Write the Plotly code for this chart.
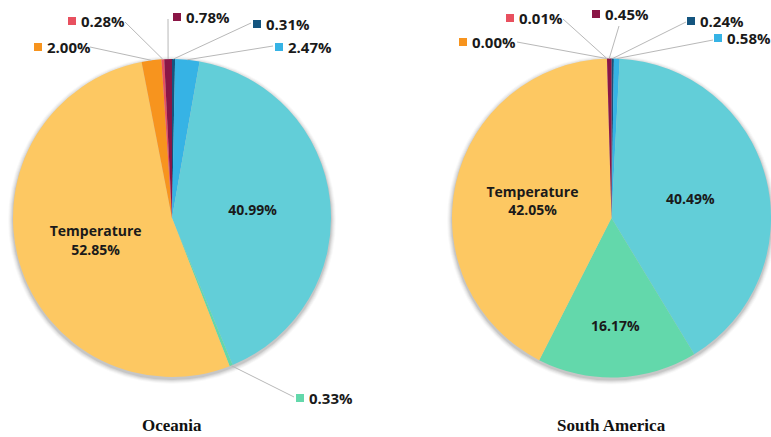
import math
import plotly.graph_objects as go

W, H = 771, 437

# Slice order: clockwise from 12 o'clock
factors = ["Wind speed", "Solar radiation", "Precipitation", "Humidity",
           "Temperature", "Evaporation", "Pressure", "Cloud cover"]
colors = ["#14557F", "#36B3E5", "#62CED8", "#63D8AB",
          "#FDC862", "#F7941E", "#E8505F", "#8A1646"]

oceania_share = [0.31, 2.47, 40.99, 0.33, 52.85, 2.00, 0.28, 0.78]
south_america_share = [0.24, 0.58, 40.49, 16.17, 42.05, 0.00, 0.01, 0.45]

regions = ["Oceania", "South America"]

# Pie geometry in pixels: centre x, centre y, radius
geom = {
    "Oceania": (172, 218, 159),
    "South America": (611.5, 218, 159.5),
}

# Callout placement for the small slices: index -> (square x, y, line start x, line start y)
callouts = {
    "Oceania": {
        6: (68, 21, 125, 22),
        7: (173, 17, 168, 19),
        0: (253, 24, 251, 23),
        5: (34, 47, 90, 47),
        1: (275, 47, 273, 46),
        3: (296, 398, 294, 397),
    },
    "South America": {
        6: (506, 18, 563, 19),
        7: (592, 14, 619, 26),
        0: (687, 21, 686, 22),
        1: (714, 38, 713, 40),
        5: (459, 42, 517, 42),
    },
}

inside_threshold = 5.0

fig = go.Figure()
shapes = []
annotations = []

for region, shares in zip(regions, [oceania_share, south_america_share]):
    cx, cy, r = geom[region]

    # soft drop shadow under the pie
    for k, op in [(5, 0.025), (4, 0.035), (3, 0.045), (2, 0.06), (1, 0.08)]:
        shapes.append(dict(type="circle", xref="x", yref="y", layer="below",
                           x0=cx - r - k, x1=cx + r + k, y0=cy - r - k + 2, y1=cy + r + k + 2,
                           fillcolor=f"rgba(0,0,0,{op})", line=dict(width=0)))

    templates, positions = [], []
    for name, v in zip(factors, shares):
        if v >= inside_threshold:
            positions.append("inside")
            if name == "Temperature":
                templates.append("%{label}<br>%{value:.2f}%")
            else:
                templates.append("%{value:.2f}%")
        else:
            positions.append("none")
            templates.append("")

    fig.add_trace(go.Pie(
        labels=factors, values=shares, sort=False, direction="clockwise", rotation=0,
        marker=dict(colors=colors, line=dict(width=0)),
        texttemplate=templates, textposition=positions,
        insidetextorientation="horizontal",
        insidetextfont=dict(family="Open Sans", size=14, color="#1a1a1a", weight="bold"),
        domain=dict(x=[(cx - r) / W, (cx + r) / W],
                    y=[(H - cy - r) / H, (H - cy + r) / H]),
        showlegend=False, hoverinfo="label+value", name=region,
    ))

    # callouts for the thin slices
    total = sum(shares)
    cum = 0.0
    mids = []
    for v in shares:
        mids.append((cum + v / 2) / total * 2 * math.pi)
        cum += v
    for idx, (sqx, ly, lx, lyy) in callouts[region].items():
        th = mids[idx]
        px, py = cx + r * math.sin(th), cy - r * math.cos(th)
        shapes.append(dict(type="line", xref="x", yref="y", x0=lx, y0=lyy, x1=px, y1=py,
                           line=dict(color="#b8b8b8", width=1)))
        shapes.append(dict(type="rect", xref="x", yref="y", x0=sqx, x1=sqx + 8,
                           y0=ly - 4, y1=ly + 4, fillcolor=colors[idx], line=dict(width=0)))
        annotations.append(dict(xref="x", yref="y", x=sqx + 11, y=ly, xanchor="left",
                                yanchor="middle", showarrow=False,
                                text=f"{shares[idx]:.2f}%",
                                font=dict(family="Open Sans", size=15, color="#1a1a1a",
                                          weight="bold")))

    annotations.append(dict(xref="x", yref="y", x=cx, y=425, xanchor="center",
                            yanchor="middle", showarrow=False, text=f"<b>{region}</b>",
                            font=dict(family="Liberation Serif", size=17, color="#111111")))

fig.update_layout(
    width=W, height=H, margin=dict(l=0, r=0, t=0, b=0),
    paper_bgcolor="white", plot_bgcolor="rgba(0,0,0,0)",
    xaxis=dict(range=[0, W], visible=False, fixedrange=True, domain=[0, 1]),
    yaxis=dict(range=[H, 0], visible=False, fixedrange=True, domain=[0, 1]),
    shapes=shapes, annotations=annotations,
)

fig.write_html("out.html")
